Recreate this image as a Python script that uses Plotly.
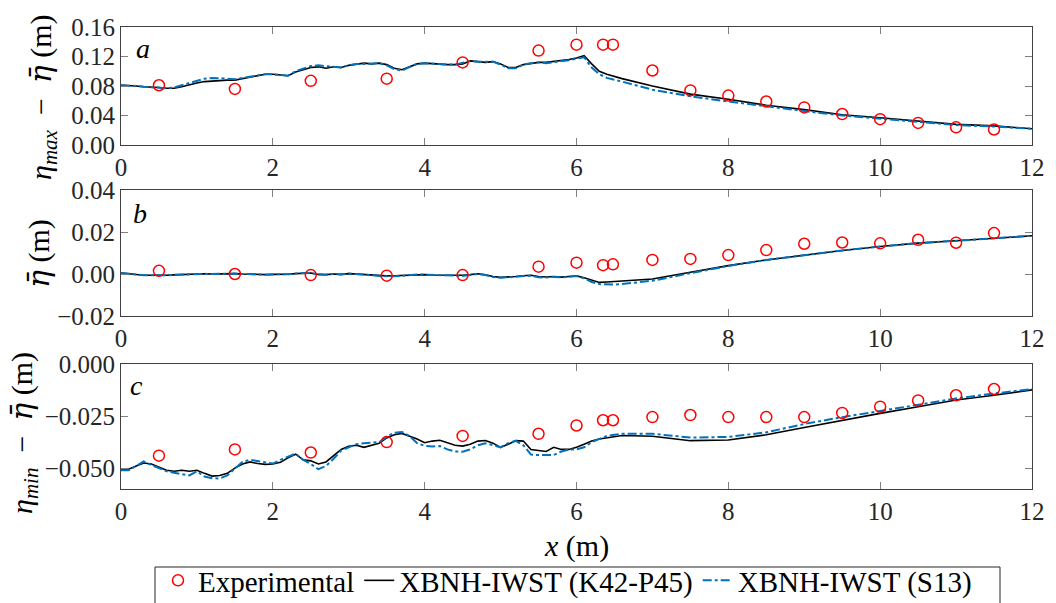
import plotly.graph_objects as go

# ---------------- data ----------------
x_exp = [0.5, 1.5, 2.5, 3.5, 4.5, 5.5, 6.0, 6.35, 6.48, 7.0, 7.5, 8.0, 8.5, 9.0, 9.5, 10.0, 10.5, 11.0, 11.5]
a_exp = [0.081, 0.076, 0.087, 0.090, 0.112, 0.128, 0.136, 0.136, 0.136, 0.101, 0.074, 0.067, 0.059,
         0.051, 0.042, 0.035, 0.030, 0.024, 0.021]
b_exp = [0.0015, 0.0, -0.0005, -0.0008, -0.0005, 0.0035, 0.0054, 0.0042, 0.0046, 0.0067, 0.0072,
         0.0090, 0.0114, 0.0144, 0.0150, 0.0146, 0.0163, 0.0149, 0.0195]
c_exp = [-0.0440, -0.0410, -0.0425, -0.0375, -0.0345, -0.0335, -0.0295, -0.0270, -0.0270, -0.0255,
         -0.0245, -0.0255, -0.0255, -0.0255, -0.0235, -0.0205, -0.0175, -0.0150, -0.0120]

x_model = [0.0, 0.1, 0.2, 0.3, 0.4, 0.5, 0.6, 0.7, 0.8, 0.9,
           1.0, 1.1, 1.2, 1.3, 1.4, 1.5, 1.6, 1.7, 1.8, 1.9,
           2.0, 2.1, 2.2, 2.3, 2.4, 2.5, 2.6, 2.7, 2.8, 2.9,
           3.0, 3.1, 3.2, 3.3, 3.4, 3.5, 3.6, 3.7, 3.8, 3.9,
           4.0, 4.1, 4.2, 4.3, 4.4, 4.5, 4.6, 4.7, 4.8, 4.9,
           5.0, 5.1, 5.2, 5.3, 5.4, 5.5, 5.6, 5.7, 5.8, 5.9,
           6.0, 6.1, 6.2, 6.3, 6.4, 6.5, 6.6,
           7.0, 7.5, 8.0, 8.5, 9.0, 9.5, 10.0, 10.5, 11.0, 11.5, 12.0]

a_k42 = [0.081, 0.081, 0.080, 0.079, 0.079, 0.078, 0.077, 0.077, 0.079, 0.082,
         0.084, 0.086, 0.087, 0.088, 0.088, 0.088, 0.090, 0.093, 0.095, 0.096,
         0.096, 0.095, 0.094, 0.099, 0.102, 0.105, 0.106, 0.104, 0.106, 0.105,
         0.108, 0.110, 0.111, 0.110, 0.111, 0.109, 0.104, 0.102, 0.106, 0.110,
         0.111, 0.110, 0.109, 0.109, 0.109, 0.110, 0.114, 0.113, 0.112, 0.113,
         0.110, 0.105, 0.105, 0.109, 0.111, 0.112, 0.112, 0.113, 0.114, 0.116,
         0.118, 0.121, 0.110, 0.100, 0.096, 0.093, 0.090,
         0.080, 0.069, 0.062, 0.054, 0.048, 0.041, 0.037, 0.032, 0.028, 0.026, 0.022]
a_s13 = [0.081, 0.081, 0.080, 0.079, 0.078, 0.078, 0.077, 0.078, 0.081, 0.085,
         0.088, 0.090, 0.091, 0.091, 0.090, 0.089, 0.091, 0.093, 0.095, 0.096,
         0.096, 0.095, 0.094, 0.100, 0.104, 0.107, 0.108, 0.107, 0.107, 0.105,
         0.108, 0.110, 0.110, 0.110, 0.111, 0.108, 0.103, 0.101, 0.106, 0.110,
         0.111, 0.110, 0.109, 0.109, 0.109, 0.111, 0.114, 0.113, 0.113, 0.113,
         0.109, 0.104, 0.104, 0.109, 0.111, 0.112, 0.111, 0.112, 0.113, 0.115,
         0.117, 0.119, 0.105, 0.096, 0.091, 0.088, 0.086,
         0.075, 0.066, 0.059, 0.052, 0.046, 0.040, 0.036, 0.031, 0.027, 0.025, 0.022]

b_k42 = [0.0005, 0.0002, -0.0004, -0.0006, -0.0006, -0.0007, -0.0006, -0.0004, -0.0002, 0.0,
         0.0, 0.0001, 0.0, 0.0001, 0.0, 0.0002, 0.0, -0.0002, -0.0003, -0.0003,
         -0.0002, -0.0003, -0.0001, 0.0002, 0.0004, 0.0005, -0.0002, -0.0003, 0.0, -0.0002,
         0.0002, 0.0, -0.0004, -0.0003, -0.0007, -0.0009, -0.0008, -0.0006, -0.0005, -0.0002,
         -0.0003, -0.0005, -0.0006, -0.0004, -0.0005, -0.0006, -0.0003, 0.0001, -0.0004, -0.0012,
         -0.0016, -0.0015, -0.0012, -0.0008, -0.0006, -0.0012, -0.0014, -0.0012, -0.0015, -0.0012,
         -0.0009, -0.0018, -0.0030, -0.0040, -0.0038, -0.0036, -0.0034,
         -0.0024, 0.0008, 0.0040, 0.0067, 0.0091, 0.0112, 0.0131, 0.0147, 0.0158, 0.0171, 0.0182]
b_s13 = [0.0005, 0.0002, -0.0004, -0.0006, -0.0006, -0.0007, -0.0006, -0.0004, -0.0002, 0.0,
         0.0, 0.0001, 0.0, 0.0001, 0.0, 0.0002, 0.0, -0.0002, -0.0003, -0.0003,
         -0.0002, -0.0003, -0.0001, 0.0002, 0.0004, 0.0005, -0.0002, -0.0003, 0.0, -0.0002,
         0.0002, 0.0, -0.0004, -0.0005, -0.0010, -0.0012, -0.0011, -0.0008, -0.0005, -0.0002,
         -0.0003, -0.0005, -0.0006, -0.0006, -0.0008, -0.0009, -0.0006, 0.0, -0.0005, -0.0014,
         -0.0018, -0.0017, -0.0013, -0.0009, -0.0008, -0.0016, -0.0017, -0.0014, -0.0016, -0.0013,
         -0.0010, -0.0020, -0.0038, -0.0048, -0.0050, -0.0050, -0.0048,
         -0.0032, 0.0004, 0.0038, 0.0067, 0.0091, 0.0112, 0.0131, 0.0147, 0.0158, 0.0171, 0.0182]

c_k42 = [-0.0505, -0.0505, -0.0490, -0.0475, -0.0480, -0.0495, -0.0510, -0.0515, -0.0510, -0.0515,
         -0.0510, -0.0525, -0.0538, -0.0535, -0.0525, -0.0500, -0.0480, -0.0470, -0.0478, -0.0482,
         -0.0480, -0.0472, -0.0450, -0.0433, -0.0460, -0.0465, -0.0480, -0.0470, -0.0440, -0.0410,
         -0.0395, -0.0390, -0.0400, -0.0390, -0.0380, -0.0355, -0.0340, -0.0333, -0.0345, -0.0360,
         -0.0378, -0.0370, -0.0366, -0.0378, -0.0390, -0.0394, -0.0385, -0.0370, -0.0367, -0.0380,
         -0.0400, -0.0385, -0.0368, -0.0370, -0.0410, -0.0415, -0.0420, -0.0400, -0.0410, -0.0410,
         -0.0400, -0.0385, -0.0370, -0.0360, -0.0354, -0.0350, -0.0343,
         -0.0347, -0.0368, -0.0365, -0.0340, -0.0305, -0.0270, -0.0237, -0.0205, -0.0173, -0.0150, -0.0124]
c_s13 = [-0.0510, -0.0510, -0.0490, -0.0468, -0.0485, -0.0500, -0.0515, -0.0522, -0.0530, -0.0535,
         -0.0515, -0.0540, -0.0548, -0.0550, -0.0535, -0.0500, -0.0470, -0.0460, -0.0465, -0.0472,
         -0.0478, -0.0460, -0.0445, -0.0430, -0.0460, -0.0480, -0.0505, -0.0490, -0.0455, -0.0415,
         -0.0400, -0.0385, -0.0380, -0.0378, -0.0375, -0.0350, -0.0330, -0.0326, -0.0345, -0.0380,
         -0.0393, -0.0396, -0.0394, -0.0410, -0.0420, -0.0421, -0.0410, -0.0390, -0.0380, -0.0390,
         -0.0400, -0.0380, -0.0369, -0.0390, -0.0435, -0.0437, -0.0437, -0.0437, -0.0420, -0.0410,
         -0.0410, -0.0400, -0.0375, -0.0360, -0.0345, -0.0340, -0.0335,
         -0.0335, -0.0353, -0.0350, -0.0328, -0.0288, -0.0255, -0.0226, -0.0195, -0.0165, -0.0142, -0.0120]

x_ticks = [0, 2, 4, 6, 8, 10, 12]
a_ticks = [0.00, 0.04, 0.08, 0.12, 0.16]
b_ticks = [-0.02, 0.00, 0.02, 0.04]
c_ticks = [-0.05, -0.025, 0.0]

names = ["Experimental", "XBNH-IWST (K42-P45)", "XBNH-IWST (S13)"]

# ---------------- figure ----------------
W, H = 1056, 603
FONT = "Liberation Serif, Times New Roman, serif"
BLACK = "#000000"
BLUE = "#0072BD"
RED = "#FF0000"

def py(p):
    return 1 - p / H

def px(p):
    return p / W

fig = go.Figure()

panels = [
    (a_k42, a_s13, a_exp, "x", "y"),
    (b_k42, b_s13, b_exp, "x2", "y2"),
    (c_k42, c_s13, c_exp, "x3", "y3"),
]
for i, (k, s, e, xa, ya) in enumerate(panels):
    first = i == 0
    fig.add_trace(go.Scatter(x=x_model, y=k, mode="lines", name=names[1], legendrank=2,
                             line=dict(color=BLACK, width=1.6), xaxis=xa, yaxis=ya,
                             showlegend=first))
    fig.add_trace(go.Scatter(x=x_model, y=s, mode="lines", name=names[2], legendrank=3,
                             line=dict(color=BLUE, width=2, dash="dashdot"), xaxis=xa, yaxis=ya,
                             showlegend=first))
    fig.add_trace(go.Scatter(x=x_exp, y=e, mode="markers", name=names[0], legendrank=1,
                             marker=dict(symbol="circle-open", size=11, color=RED,
                                         line=dict(color=RED, width=1.5)),
                             xaxis=xa, yaxis=ya, showlegend=first))

xdom = [px(121), px(1032)]
ydoms = [[py(145), py(27)], [py(316), py(190)], [py(489), py(364)]]

axis_common = dict(showgrid=False, zeroline=False, showline=True, mirror="ticks",
                   linecolor="#404040", linewidth=1, ticks="inside", ticklen=7,
                   tickcolor="#808080", tickwidth=1, automargin=False,
                   tickfont=dict(family=FONT, size=25, color="#262626"))

layout = dict(width=W, height=H, margin=dict(l=0, r=0, t=0, b=0, autoexpand=False),
              paper_bgcolor="white", plot_bgcolor="white",
              font=dict(family=FONT, size=24, color="#262626"))

for i, (yr, yt, fmt) in enumerate([([0, 0.16], a_ticks, ".2f"),
                                    ([-0.02, 0.04], b_ticks, ".2f"),
                                    ([-0.06, 0.0], c_ticks, ".3f")]):
    sfx = "" if i == 0 else str(i + 1)
    layout["xaxis" + sfx] = dict(domain=xdom, range=[0, 12], tickvals=x_ticks,
                                 anchor="y" + sfx, **axis_common)
    layout["yaxis" + sfx] = dict(domain=ydoms[i], range=yr, tickvals=yt, tickformat=fmt,
                                 anchor="x" + sfx, **axis_common)

fig.update_layout(**layout)

eb = "<span style=\"font-family:'DejaVu Serif'\"><i>\u03b7\u0304</i></span>"
mn = "\u2002\u2212\u2002"
annots = [
    dict(x=px(42), y=py(97), text="<i>\u03b7</i><sub><i>max</i></sub>" + mn + eb + " (m)", textangle=-90, size=30),
    dict(x=px(38), y=py(254), text=eb + " (m)", textangle=-90, size=30),
    dict(x=px(24), y=py(433), text="<i>\u03b7</i><sub><i>min</i></sub>" + mn + eb + " (m)", textangle=-90, size=30),
    dict(x=px(576), y=py(546), text="<i>x</i> (m)", size=30),
    dict(x=px(143), y=py(49), text="<i>a</i>", size=28),
    dict(x=px(140), y=py(214), text="<i>b</i>", size=28),
    dict(x=px(136), y=py(385), text="<i>c</i>", size=28),
]
for a in annots:
    s = a.pop("size")
    a.update(xref="paper", yref="paper", showarrow=False, xanchor="center", yanchor="middle",
             font=dict(family=FONT, size=s, color="#000000"))
fig.update_layout(annotations=annots)

# legend frame (extends past the bottom edge as in the reference)
fig.add_shape(type="rect", xref="paper", yref="paper", x0=px(155), x1=px(1000), y0=py(567), y1=py(620),
              line=dict(color="#262626", width=1), fillcolor="rgba(0,0,0,0)", layer="above")

fig.update_layout(legend=dict(orientation="h", x=px(158), y=py(555), xanchor="left", yanchor="top",
                              borderwidth=0, bgcolor="rgba(0,0,0,0)",
                              font=dict(family=FONT, size=29, color="#000000"),
                              traceorder="normal"))

fig.write_html("out.html")
